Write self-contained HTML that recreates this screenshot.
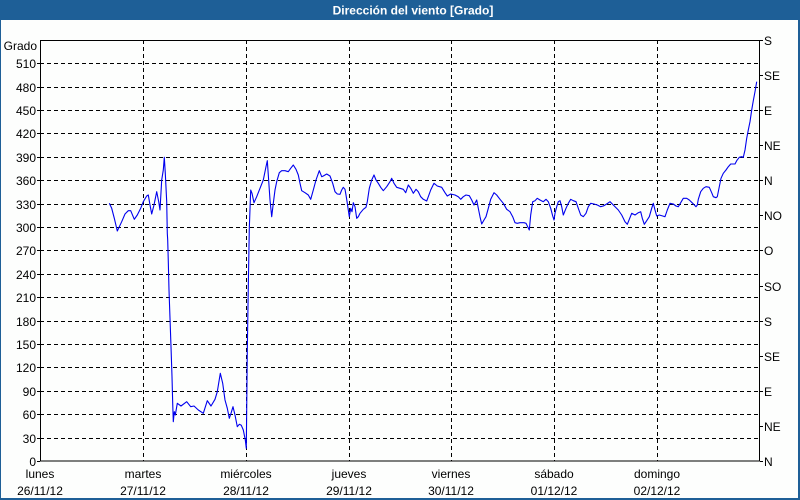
<!DOCTYPE html>
<html><head><meta charset="utf-8"><style>
html,body{margin:0;padding:0;background:#fff;}
svg{display:block;}
text{font-family:"Liberation Sans",sans-serif;font-size:12px;fill:#000;}
</style></head><body>
<svg width="800" height="500" viewBox="0 0 800 500" xmlns="http://www.w3.org/2000/svg">
<rect x="0" y="0" width="800" height="500" fill="#1e5f97"/>
<rect x="1" y="20" width="797" height="478" fill="#fdfefd"/>
<text x="413" y="14.5" text-anchor="middle" style="font-weight:bold;fill:#fff;font-size:12px">Dirección del viento [Grado]</text>
<g stroke="#000" stroke-width="1" stroke-dasharray="4,3" fill="none" shape-rendering="crispEdges">
<line x1="40" y1="63.5" x2="760" y2="63.5"/>
<line x1="40" y1="87.5" x2="760" y2="87.5"/>
<line x1="40" y1="110.5" x2="760" y2="110.5"/>
<line x1="40" y1="133.5" x2="760" y2="133.5"/>
<line x1="40" y1="157.5" x2="760" y2="157.5"/>
<line x1="40" y1="180.5" x2="760" y2="180.5"/>
<line x1="40" y1="204.5" x2="760" y2="204.5"/>
<line x1="40" y1="227.5" x2="760" y2="227.5"/>
<line x1="40" y1="250.5" x2="760" y2="250.5"/>
<line x1="40" y1="274.5" x2="760" y2="274.5"/>
<line x1="40" y1="297.5" x2="760" y2="297.5"/>
<line x1="40" y1="321.5" x2="760" y2="321.5"/>
<line x1="40" y1="344.5" x2="760" y2="344.5"/>
<line x1="40" y1="367.5" x2="760" y2="367.5"/>
<line x1="40" y1="391.5" x2="760" y2="391.5"/>
<line x1="40" y1="414.5" x2="760" y2="414.5"/>
<line x1="40" y1="438.5" x2="760" y2="438.5"/>
<line x1="143.5" y1="40" x2="143.5" y2="461"/>
<line x1="246.5" y1="40" x2="246.5" y2="461"/>
<line x1="349.5" y1="40" x2="349.5" y2="461"/>
<line x1="451.5" y1="40" x2="451.5" y2="461"/>
<line x1="554.5" y1="40" x2="554.5" y2="461"/>
<line x1="657.5" y1="40" x2="657.5" y2="461"/>
</g>
<g stroke="#000" stroke-width="1" fill="none" shape-rendering="crispEdges">
<rect x="40.5" y="40.5" width="719" height="420.5"/>
<line x1="37" y1="63.5" x2="40" y2="63.5"/><line x1="37" y1="87.5" x2="40" y2="87.5"/><line x1="37" y1="110.5" x2="40" y2="110.5"/><line x1="37" y1="133.5" x2="40" y2="133.5"/><line x1="37" y1="157.5" x2="40" y2="157.5"/><line x1="37" y1="180.5" x2="40" y2="180.5"/><line x1="37" y1="204.5" x2="40" y2="204.5"/><line x1="37" y1="227.5" x2="40" y2="227.5"/><line x1="37" y1="250.5" x2="40" y2="250.5"/><line x1="37" y1="274.5" x2="40" y2="274.5"/><line x1="37" y1="297.5" x2="40" y2="297.5"/><line x1="37" y1="321.5" x2="40" y2="321.5"/><line x1="37" y1="344.5" x2="40" y2="344.5"/><line x1="37" y1="367.5" x2="40" y2="367.5"/><line x1="37" y1="391.5" x2="40" y2="391.5"/><line x1="37" y1="414.5" x2="40" y2="414.5"/><line x1="37" y1="438.5" x2="40" y2="438.5"/><line x1="37" y1="461.5" x2="40" y2="461.5"/>
<line x1="760" y1="40.5" x2="763" y2="40.5"/><line x1="760" y1="75.5" x2="763" y2="75.5"/><line x1="760" y1="110.5" x2="763" y2="110.5"/><line x1="760" y1="145.5" x2="763" y2="145.5"/><line x1="760" y1="180.5" x2="763" y2="180.5"/><line x1="760" y1="215.5" x2="763" y2="215.5"/><line x1="760" y1="250.5" x2="763" y2="250.5"/><line x1="760" y1="286.5" x2="763" y2="286.5"/><line x1="760" y1="321.5" x2="763" y2="321.5"/><line x1="760" y1="356.5" x2="763" y2="356.5"/><line x1="760" y1="391.5" x2="763" y2="391.5"/><line x1="760" y1="426.5" x2="763" y2="426.5"/><line x1="760" y1="461.5" x2="763" y2="461.5"/>
</g>
<g text-anchor="end">
<text x="37" y="50">Grado</text>
<text x="36" y="68">510</text><text x="36" y="92">480</text><text x="36" y="115">450</text><text x="36" y="138">420</text><text x="36" y="162">390</text><text x="36" y="185">360</text><text x="36" y="209">330</text><text x="36" y="232">300</text><text x="36" y="255">270</text><text x="36" y="279">240</text><text x="36" y="302">210</text><text x="36" y="326">180</text><text x="36" y="349">150</text><text x="36" y="372">120</text><text x="36" y="396">90</text><text x="36" y="419">60</text><text x="36" y="443">30</text><text x="36" y="466">0</text>
</g>
<g>
<text x="764" y="45">S</text><text x="764" y="80">SE</text><text x="764" y="115">E</text><text x="764" y="150">NE</text><text x="764" y="185">N</text><text x="764" y="220">NO</text><text x="764" y="255">O</text><text x="764" y="291">SO</text><text x="764" y="326">S</text><text x="764" y="361">SE</text><text x="764" y="396">E</text><text x="764" y="431">NE</text><text x="764" y="466">N</text>
</g>
<g text-anchor="middle">
<text x="40" y="478">lunes</text><text x="40" y="495">26/11/12</text>
<text x="143" y="478">martes</text><text x="143" y="495">27/11/12</text>
<text x="246" y="478">miércoles</text><text x="246" y="495">28/11/12</text>
<text x="349" y="478">jueves</text><text x="349" y="495">29/11/12</text>
<text x="451" y="478">viernes</text><text x="451" y="495">30/11/12</text>
<text x="554" y="478">sábado</text><text x="554" y="495">01/12/12</text>
<text x="657" y="478">domingo</text><text x="657" y="495">02/12/12</text>
</g>
<polyline fill="none" stroke="#0000ee" stroke-width="1.1" stroke-linejoin="round" points="
109.3,203.3 111.7,208.3 114.3,218.3 117.3,231 121.7,221.7 125,214 128.3,210.7 130.7,210.7 134.3,219.3 137.3,215 140.7,208.3 143.3,201.7 146.7,196 148.3,195 150,205 151.7,214 154,205 156.7,191.7 158.7,201.7 160,210 161.7,180 163.3,170 164.3,157.3 165.3,173.3 166.7,201.7 167.3,233.3 167.7,240 168.3,261.7 169,290 170,318.3 171,346.7 172,376.7 172.7,403.3 173.3,421.7 174.3,411.7 175.3,415 177.3,403.3 181,406 186.7,401.7 190.7,406.7 194,406 198.3,410 203.3,413.3 207.3,400.7 211,406 215,399.3 217.3,391.7 220.3,373.3 222.7,383.3 225,400 227.3,408.3 229.3,418.3 231,413.3 233,406.7 235,415 237.3,426.7 239.3,424.3 241.3,425.3 243.3,430 245.3,440 246.3,448.3 247.3,350 248.3,286.7 249.3,228.3 250.7,190 252,193.3 254,202.7 256.7,196.7 260,188.3 263.3,180 266,166.7 267.3,160.7 268.3,175 270,200 271.7,216.7 273.3,203.3 275,190 276.7,181.7 279.3,172.7 281.7,170.7 285,170.7 288.3,171.7 290.7,168.3 293.3,165 296,169.3 298.3,175 300,183.3 301.7,190.7 305,192.7 308.3,195 310.7,199.3 313.3,190 316,180 319.3,170.7 321.7,176.7 323.3,176 326.7,174 330,176 332.7,183.3 335,191.7 337.3,194 340,194.3 341.7,190 343.3,187.3 345,189.3 346,195 347.3,203.3 348.3,210 349.3,216.7 350.7,208.3 352,211.7 353.3,202.7 355,206.7 356.7,218.3 358.3,216.7 360,213.3 363.3,209.3 366,207.3 367.3,201.7 369.3,188.3 371.7,180 374,175 376,180 378.3,183.3 380.7,187.3 383.3,190.7 386.7,186.7 390,181.7 391.7,178.3 394,183.3 396.7,187.3 400,188.3 403.3,189.3 405.7,192.7 408.3,185 410.7,188.3 413.3,193.3 416,189.3 418.3,191.7 420.7,196.7 423.3,199.3 426.7,201 428.3,196.7 430.7,190 434,183.3 437.3,186 441.7,187.3 445,192.7 447.3,196 450.7,194 455,195 458.3,196.7 460.7,199.3 463.3,196.7 466,195 469.3,195.7 471.7,200 474,205 476.7,200 478.3,208.3 480,216.7 481.7,224 484,220 486,216.7 488.3,208.3 490.7,199.3 494,192.7 496.7,195 500,199.3 503.3,203.3 506.7,209.3 510,211.7 512.7,216.7 515,222.7 517.3,223.3 520,222.7 524,222.7 526,223.3 527.7,226.7 529.3,230 530.7,215 532.7,201.7 535,200.7 537.3,198.3 540,200 543.3,201.7 546,199.3 548.3,201.7 550.7,208.3 552.7,216 554,220 555,213.3 556.7,206.7 558.3,201.7 560,200.7 561.7,206.7 563.3,215 566,208.3 568.3,203.3 570.7,199.3 573.3,200.7 576,201.7 578.3,208.3 580.7,215 583.3,216.7 586,213.3 588.3,206.7 590.7,203.3 594,204 597.3,205 600.7,206.7 603.3,206 606.7,204 610,201.7 613.3,205 618.3,210 621.7,215 625,221.7 627.3,224.3 629.3,219.3 631.7,213.3 635,215 638.3,212.7 640.7,211.7 642.3,218.3 644.3,224.3 646.7,220.7 649.3,216.7 651.7,208.3 653.3,203.3 655,210 656.7,216 659.3,215 662.7,216 665,216.7 667.3,210 670,203.3 673.3,204 676,206 678.3,206.7 680.7,202.7 683.3,198.3 686.7,198.3 689.3,200 692.7,203.3 696,206.7 697.3,205 698.3,199.3 700.7,191.7 703.3,188.3 706,186.7 709.3,187.3 711.7,192.7 713.3,196.7 716,197.7 717.3,196.7 719.3,186.7 721,178.3 723.3,173.3 726,170 728.3,166.7 730.7,164 733.3,164 735,164 736.7,160.7 739.3,157.3 741.7,156.7 743.3,157.3 745,150 746.7,138.3 748.3,130 750,121.7 751.7,110 753.3,100.7 755,91.7 756.7,81.7"/>
</svg>
</body></html>
